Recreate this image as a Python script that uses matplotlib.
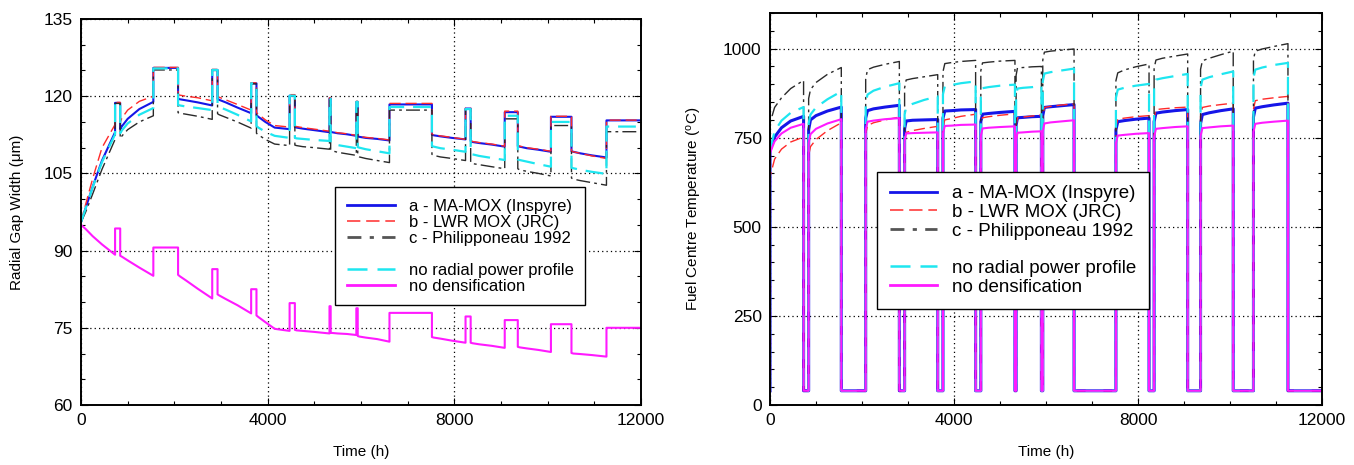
import matplotlib
matplotlib.use("Agg")
import matplotlib.pyplot as plt
from matplotlib.lines import Line2D
from matplotlib.ticker import MultipleLocator

plt.rcParams["font.family"] = ["Liberation Sans", "DejaVu Sans"]
plt.rcParams["mathtext.fontset"] = "custom"
plt.rcParams["mathtext.rm"] = "Liberation Sans"
plt.rcParams["mathtext.it"] = "Liberation Sans:italic"

# ---------------------------------------------------------------- data
# Irradiation history: time knots (h) of each power-on period
seg_hours = [
    [0, 100, 250, 450, 730],
    [840, 880, 1000, 1250, 1550],
    [2080, 2120, 2250, 2500, 2812],
    [2926, 2960, 3100, 3350, 3646],
    [3760, 3800, 3950, 4150, 4470],
    [4583, 4620, 4750, 5000, 5325],
    [5350, 5380, 5500, 5700, 5900],
    [5930, 5965, 6100, 6350, 6610],
    [7520, 7560, 7700, 7950, 8240],
    [8350, 8390, 8530, 8800, 9080],
    [9360, 9400, 9550, 9800, 10070],
    [10510, 10550, 10700, 10950, 11260],
]
end_hour = 12000

labels = ["a - MA-MOX (Inspyre)", "b - LWR MOX (JRC)", "c - Philipponeau 1992",
          "no radial power profile", "no densification"]

# Radial gap width (um) during power-on periods
gap_a = [[95.5, 98.3, 102.4, 107.5, 113.0], [113.6, 114.2, 115.6, 117.5, 118.9],
         [119.5, 119.4, 119.2, 118.8, 118.2], [119.5, 119.3, 118.8, 117.8, 116.7],
         [116.3, 116.0, 115.0, 113.9, 113.6], [114.0, 113.9, 113.7, 113.4, 113.0],
         [113.1, 113.0, 112.8, 112.6, 112.3], [112.2, 112.1, 111.9, 111.7, 111.4],
         [112.5, 112.4, 112.2, 111.9, 111.6], [111.3, 111.1, 110.9, 110.6, 110.2],
         [110.3, 110.2, 109.9, 109.6, 109.2], [109.3, 109.2, 108.9, 108.5, 108.1]]
gap_b = [[95.5, 99.0, 104.0, 110.0, 114.5], [115.0, 115.8, 117.3, 119.0, 120.0],
         [120.3, 120.2, 120.0, 119.7, 119.1], [120.0, 119.8, 119.3, 118.4, 117.3],
         [116.8, 116.5, 115.4, 114.3, 114.0], [114.2, 114.1, 113.9, 113.6, 113.2],
         [113.2, 113.1, 112.9, 112.7, 112.4], [112.3, 112.2, 112.0, 111.8, 111.5],
         [112.6, 112.5, 112.3, 112.0, 111.6], [111.3, 111.2, 111.0, 110.7, 110.3],
         [110.4, 110.3, 110.0, 109.7, 109.3], [109.3, 109.2, 108.9, 108.4, 107.9]]
gap_c = [[95.5, 97.5, 101.0, 105.8, 111.6], [111.8, 112.3, 113.5, 115.0, 116.2],
         [116.8, 116.7, 116.5, 116.1, 115.5], [116.6, 116.4, 115.9, 115.0, 113.8],
         [112.8, 112.5, 111.6, 110.7, 110.4], [110.5, 110.4, 110.2, 110.0, 109.7],
         [109.6, 109.4, 109.1, 108.8, 108.5], [108.4, 108.2, 107.9, 107.5, 107.1],
         [108.7, 108.5, 108.2, 107.9, 107.5], [107.1, 106.9, 106.7, 106.3, 105.9],
         [105.9, 105.7, 105.4, 105.0, 104.5], [104.1, 103.9, 103.6, 103.2, 102.7]]
gap_nrp = [[95.5, 98.2, 102.3, 107.2, 112.6], [112.8, 113.4, 114.7, 116.4, 117.7],
           [118.3, 118.2, 118.0, 117.7, 117.3], [118.1, 117.9, 117.4, 116.4, 115.1],
           [114.2, 113.9, 113.1, 112.3, 111.9], [111.9, 111.8, 111.7, 111.5, 111.3],
           [110.9, 110.8, 110.5, 110.2, 109.9], [110.1, 110.0, 109.7, 109.3, 108.9],
           [110.3, 110.2, 109.9, 109.6, 109.2], [108.8, 108.7, 108.4, 108.0, 107.6],
           [107.7, 107.6, 107.3, 106.8, 106.3], [106.1, 106.0, 105.7, 105.3, 104.9]]
gap_nd = [[95.0, 94.2, 92.8, 91.2, 89.2], [89.0, 88.8, 88.1, 86.7, 85.1],
          [85.3, 85.0, 84.2, 82.6, 80.7], [81.5, 81.3, 80.6, 79.4, 77.8],
          [77.4, 77.1, 76.1, 74.8, 74.4], [74.6, 74.5, 74.4, 74.2, 73.9],
          [74.0, 74.0, 73.9, 73.8, 73.6], [73.4, 73.3, 73.1, 72.8, 72.3],
          [73.2, 73.1, 72.9, 72.5, 72.1], [72.1, 72.0, 71.8, 71.5, 71.1],
          [71.3, 71.2, 71.0, 70.7, 70.3], [70.1, 70.0, 69.9, 69.7, 69.4]]

# Radial gap width (um) during the power-off period following each power-on period
gap_off_a = [118.7, 125.5, 125.1, 122.5, 120.1, 119.6, 118.9, 118.4, 117.6, 116.9, 116.0, 115.3]
gap_off_b = [118.8, 125.6, 125.2, 122.6, 120.3, 119.7, 119.0, 118.6, 117.7, 117.1, 116.1, 115.35]
gap_off_c = [118.6, 125.1, 125.0, 122.4, 120.0, 119.4, 118.8, 117.3, 117.5, 115.6, 114.3, 113.1]
gap_off_nrp = [118.7, 125.4, 125.1, 122.5, 120.1, 119.5, 118.9, 117.9, 117.5, 116.2, 115.0, 114.1]
gap_off_nd = [94.3, 90.6, 86.4, 82.5, 79.8, 79.2, 78.8, 77.9, 77.2, 76.5, 75.7, 75.0]

# Fuel centre temperature (degC) during power-on periods
temp_a = [[715, 752, 778, 797, 810], [772, 800, 812, 825, 836],
          [805, 826, 831, 836, 841], [775, 797, 799, 800, 801],
          [805, 825, 826, 828, 829], [795, 816, 818, 821, 824],
          [785, 806, 807, 809, 810], [812, 835, 837, 840, 843],
          [772, 795, 798, 802, 805], [795, 819, 822, 826, 829],
          [790, 815, 820, 826, 831], [808, 833, 837, 842, 847]]
temp_b = [[640, 690, 718, 738, 752], [700, 725, 745, 770, 792],
          [760, 784, 792, 800, 808], [745, 765, 770, 776, 782],
          [780, 800, 804, 810, 816], [785, 806, 809, 813, 817],
          [785, 806, 808, 811, 814], [812, 835, 838, 842, 845],
          [780, 802, 805, 809, 812], [805, 829, 831, 834, 836],
          [810, 835, 839, 843, 847], [830, 854, 858, 862, 866]]
temp_c = [[791, 835, 862, 888, 911], [860, 885, 905, 928, 947],
          [915, 941, 948, 956, 964], [890, 912, 916, 921, 927],
          [935, 958, 961, 964, 967], [938, 960, 962, 965, 967],
          [925, 946, 947, 949, 950], [968, 990, 993, 996, 999],
          [910, 932, 940, 949, 957], [945, 968, 973, 979, 985],
          [942, 966, 973, 983, 993], [970, 993, 999, 1006, 1014]]
temp_nrp = [[715, 768, 798, 820, 836], [790, 815, 835, 858, 880],
            [848, 871, 882, 893, 903], [815, 836, 845, 856, 866],
            [872, 894, 898, 903, 908], [868, 889, 892, 896, 899],
            [868, 888, 890, 892, 895], [908, 930, 934, 939, 944],
            [862, 885, 890, 896, 901], [890, 913, 917, 923, 929],
            [890, 913, 920, 928, 936], [918, 941, 947, 954, 960]]
temp_nd = [[707, 740, 762, 778, 789], [735, 760, 775, 790, 802],
           [772, 795, 798, 802, 805], [740, 762, 763, 764, 765],
           [762, 783, 784, 786, 787], [755, 776, 778, 780, 782],
           [742, 764, 765, 767, 768], [768, 790, 793, 796, 799],
           [735, 756, 758, 761, 763], [752, 775, 777, 780, 782],
           [755, 777, 779, 782, 784], [766, 789, 792, 795, 798]]
temp_off = 40  # coolant-level temperature during shutdowns


def history(seg_vals, off_vals, start_level=None):
    """Join power-on segments and power-off plateaus into one polyline."""
    t, y = [], []
    if start_level is not None:
        t.append(seg_hours[0][0])
        y.append(start_level)
    for i, (hrs, vals) in enumerate(zip(seg_hours, seg_vals)):
        t.extend(hrs)
        y.extend(vals)
        off_end = seg_hours[i + 1][0] if i + 1 < len(seg_hours) else end_hour
        t.extend([hrs[-1], off_end])
        y.extend([off_vals[i], off_vals[i]])
    return t, y


# ---------------------------------------------------------------- styles
styles = [
    dict(color="#1515e8", lw=1.5, ls="-"),
    dict(color="#ff2a2a", lw=1.0, ls=(0, (8, 3.5))),
    dict(color="#2a2a2a", lw=1.0, ls=(0, (10, 3, 2, 3))),
    dict(color="#1ee6f0", lw=1.6, ls=(0, (8, 4))),
    dict(color="#ff1aff", lw=1.5, ls="-"),
]
legend_styles = [
    dict(color="#1515e8", lw=2.0, ls="-"),
    dict(color="#ff3c3c", lw=1.2, ls=(0, (8, 3.5))),
    dict(color="#555555", lw=2.0, ls=(0, (5, 3, 1.5, 3))),
    dict(color="#1ee6f0", lw=1.8, ls=(0, (8, 4))),
    dict(color="#ff1aff", lw=2.0, ls="-"),
]

fig = plt.figure(figsize=(13.54, 4.65), dpi=100)
ax1 = fig.add_axes([81 / 1354, 60 / 465, 560 / 1354, 386 / 465])
ax2 = fig.add_axes([770 / 1354, 60 / 465, 552 / 1354, 392 / 465])


def style_axes(ax, ymaj, ymin):
    ax.set_xlim(0, 12000)
    ax.xaxis.set_major_locator(MultipleLocator(4000))
    ax.xaxis.set_minor_locator(MultipleLocator(1000))
    ax.yaxis.set_major_locator(MultipleLocator(ymaj))
    ax.yaxis.set_minor_locator(MultipleLocator(ymin))
    ax.tick_params(which="both", direction="in", top=True, right=True,
                   labelsize=12.5, colors="black")
    ax.tick_params(which="major", length=5, width=0.8, pad=6)
    ax.tick_params(which="minor", length=3, width=0.8)
    ax.grid(True, which="major", color="black", ls=(0, (1, 2.5)), lw=0.9)
    for s in ax.spines.values():
        s.set_linewidth(1.4)
    ax.set_xlabel("Time (h)", fontsize=11, labelpad=12)


def add_legend(ax, fontsize, anchor, handlelength, spacing):
    handles = []
    for k, st in enumerate(legend_styles):
        handles.append(Line2D([], [], label=labels[k], **st))
        if k == 2:
            handles.append(Line2D([], [], color="none", label=" "))
    leg = ax.legend(handles=handles, loc="upper left", bbox_to_anchor=anchor,
                    fontsize=fontsize, frameon=True, fancybox=False,
                    edgecolor="black", framealpha=1, borderaxespad=0,
                    borderpad=0.7, labelspacing=spacing, handlelength=handlelength,
                    handletextpad=0.8)
    leg.get_frame().set_linewidth(1.0)
    leg.set_zorder(5)


# ---------------------------------------------------------------- gap width
gap_series = [(gap_a, gap_off_a), (gap_b, gap_off_b), (gap_c, gap_off_c),
              (gap_nrp, gap_off_nrp), (gap_nd, gap_off_nd)]
for st, (seg, off) in zip(styles, gap_series):
    t, y = history(seg, off)
    ax1.plot(t, y, **st)
style_axes(ax1, 15, 5)
ax1.set_ylim(60, 135)
ax1.set_ylabel("Radial Gap Width (\u03bcm)", fontsize=11, labelpad=14)
add_legend(ax1, 12, (0.454, 0.565), 2.9, 0.06)

# ---------------------------------------------------------------- temperature
temp_series = [temp_a, temp_b, temp_c, temp_nrp, temp_nd]
temp_styles = [dict(styles[0], lw=2.2), styles[1], styles[2], styles[3], styles[4]]
for st, seg in zip(temp_styles, temp_series):
    t, y = history(seg, [temp_off] * len(seg_hours), start_level=temp_off)
    ax2.plot(t, y, **st)
style_axes(ax2, 250, 50)
ax2.set_ylim(0, 1100)
ax2.set_ylabel(r"Fuel Centre Temperature ($^{\rm o}$C)", fontsize=11, labelpad=14)
add_legend(ax2, 13.5, (0.194, 0.594), 2.5, 0.08)

fig.savefig("out.png", dpi=100)
